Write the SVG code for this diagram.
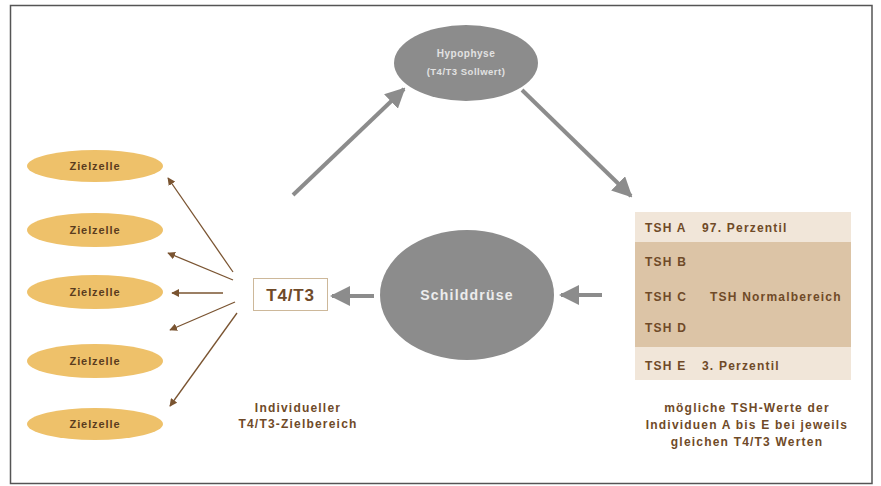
<svg xmlns="http://www.w3.org/2000/svg" width="881" height="486" viewBox="0 0 881 486">
<defs>
<style>
.t{font-family:"Liberation Sans",Arial,sans-serif;font-weight:bold;}
.brown{fill:#6f4a28;}
.zz{fill:#eec16a;}
.zt{font-size:11px;letter-spacing:0.9px;fill:#5a3c1e;text-anchor:middle;}
.lab{font-size:12px;letter-spacing:1.2px;}
.gline{stroke:#8c8c8c;stroke-width:4;fill:none;}
.bline{stroke:#7a5431;stroke-width:1.3;fill:none;}
</style>
<marker id="ga" viewBox="0 0 10 10" refX="9" refY="5" markerWidth="5" markerHeight="5" markerUnits="strokeWidth" orient="auto">
<path d="M0,0 L10,5 L0,10 z" fill="#8c8c8c"/>
</marker>
<marker id="ba" viewBox="0 0 10 10" refX="9" refY="5" markerWidth="6" markerHeight="6" markerUnits="strokeWidth" orient="auto">
<path d="M0,0 L10,5 L0,10 z" fill="#7a5431"/>
</marker>
</defs>
<rect x="0" y="0" width="881" height="486" fill="#ffffff"/>
<rect x="10.5" y="5.5" width="861.5" height="478" fill="#ffffff" stroke="#555555" stroke-width="1.5"/>

<g id="connectors">
<line class="gline" x1="293" y1="195" x2="404" y2="89" marker-end="url(#ga)"/>
<line class="gline" x1="522" y1="90" x2="631" y2="196" marker-end="url(#ga)"/>
<line class="gline" x1="602" y1="295" x2="561" y2="295" marker-end="url(#ga)"/>
<line class="gline" x1="374" y1="296" x2="332" y2="296" marker-end="url(#ga)"/>
<line class="bline" x1="233" y1="272" x2="168" y2="178" marker-end="url(#ba)"/>
<line class="bline" x1="233" y1="280" x2="168" y2="253" marker-end="url(#ba)"/>
<line class="bline" x1="223" y1="293" x2="172" y2="293" marker-end="url(#ba)"/>
<line class="bline" x1="235" y1="302" x2="170" y2="330" marker-end="url(#ba)"/>
<line class="bline" x1="237" y1="313" x2="170" y2="406" marker-end="url(#ba)"/>
</g>

<g id="hypophyse">
<ellipse cx="466" cy="63" rx="72" ry="38" fill="#8c8c8c"/>
<text class="t" x="466" y="57" font-size="10" letter-spacing="0.5" fill="#e2e2e2" text-anchor="middle">Hypophyse</text>
<text class="t" x="466" y="75" font-size="9.5" letter-spacing="0.5" fill="#e2e2e2" text-anchor="middle">(T4/T3 Sollwert)</text>
</g>

<g id="schilddruese">
<ellipse cx="467" cy="295" rx="87" ry="65" fill="#8c8c8c"/>
<text class="t" x="467" y="300" font-size="14" letter-spacing="1.2" fill="#ececec" text-anchor="middle">Schilddrüse</text>
</g>

<g id="t4t3">
<rect x="253.5" y="278.5" width="74" height="32" fill="#ffffff" stroke="#cdb89a" stroke-width="1"/>
<text class="t brown" x="290.5" y="301" font-size="17" letter-spacing="0.8" text-anchor="middle">T4/T3</text>
</g>

<g id="zielzelle1"><ellipse class="zz" cx="95" cy="166" rx="68" ry="16"/><text class="t zt" x="95" y="170">Zielzelle</text></g>
<g id="zielzelle2"><ellipse class="zz" cx="95" cy="230" rx="68" ry="17"/><text class="t zt" x="95" y="234">Zielzelle</text></g>
<g id="zielzelle3"><ellipse class="zz" cx="95" cy="292" rx="68" ry="17"/><text class="t zt" x="95" y="296">Zielzelle</text></g>
<g id="zielzelle4"><ellipse class="zz" cx="95" cy="361" rx="68" ry="17"/><text class="t zt" x="95" y="365">Zielzelle</text></g>
<g id="zielzelle5"><ellipse class="zz" cx="95" cy="424" rx="68" ry="16"/><text class="t zt" x="95" y="428">Zielzelle</text></g>

<g id="tsh-table">
<rect x="635" y="212" width="216" height="30" fill="#f1e6d9"/>
<rect x="635" y="242" width="216" height="105" fill="#dcc4a6"/>
<rect x="635" y="347" width="216" height="33" fill="#f1e6d9"/>
<g class="t brown lab">
<text x="645" y="232">TSH A</text>
<text x="702" y="232">97. Perzentil</text>
<text x="645" y="266">TSH B</text>
<text x="645" y="301">TSH C</text>
<text x="710" y="301">TSH Normalbereich</text>
<text x="645" y="332">TSH D</text>
<text x="645" y="370">TSH E</text>
<text x="702" y="370">3. Perzentil</text>
</g>
</g>

<g id="label-ziel" class="t brown lab" text-anchor="middle">
<text x="298" y="412">Individueller</text>
<text x="298" y="428">T4/T3-Zielbereich</text>
</g>

<g id="label-tsh" class="t brown lab" text-anchor="middle">
<text x="747" y="412">mögliche TSH-Werte der</text>
<text x="747" y="429">Individuen A bis E bei jeweils</text>
<text x="747" y="446">gleichen T4/T3 Werten</text>
</g>
</svg>
